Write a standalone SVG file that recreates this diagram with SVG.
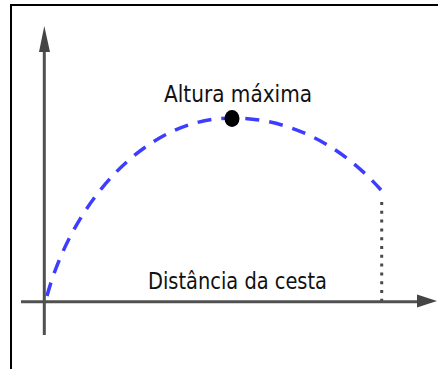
<svg xmlns="http://www.w3.org/2000/svg" width="438" height="369" viewBox="0 0 438 369">
  <style>
    .frame { fill: none; stroke: #000; stroke-width: 2; }
    .axis { fill: none; stroke: #505050; stroke-width: 3; }
    .head { fill: #454545; }
    .traj { fill: none; stroke: #3d3dff; stroke-width: 3.5; stroke-dasharray: 14 10; }
    .drop { fill: none; stroke: #4a4a4a; stroke-width: 3; stroke-dasharray: 3 5.8; }
    .lbl { font-family: "DejaVu Sans", "Liberation Sans", sans-serif; font-size: 23px; fill: #111; }
  </style>
  <rect width="438" height="369" fill="#fff"/>
  <path class="frame" d="M11,369 V5 H438"/>
  <g id="connectors">
    <line class="axis" x1="44.3" y1="335" x2="44.3" y2="50"/>
    <polygon class="head" points="44.3,26 39,52 50,52"/>
    <line class="axis" x1="21" y1="301.7" x2="419" y2="301.7"/>
    <polygon class="head" points="437,301 417,294.5 417,307.5"/>
    <path class="traj" d="M47,296 C70,210 140,118 232,118 C300,118 350,155 381,190"/>
    <line class="drop" x1="381.7" y1="202" x2="381.7" y2="301"/>
  </g>
  <g id="peak">
    <ellipse cx="232" cy="118.5" rx="7.5" ry="8.5" fill="#000"/>
    <text class="lbl" x="164" y="102" textLength="148" lengthAdjust="spacingAndGlyphs">Altura máxima</text>
  </g>
  <g id="distance-label">
    <text class="lbl" x="148" y="289" textLength="179" lengthAdjust="spacingAndGlyphs">Distância da cesta</text>
  </g>
</svg>
